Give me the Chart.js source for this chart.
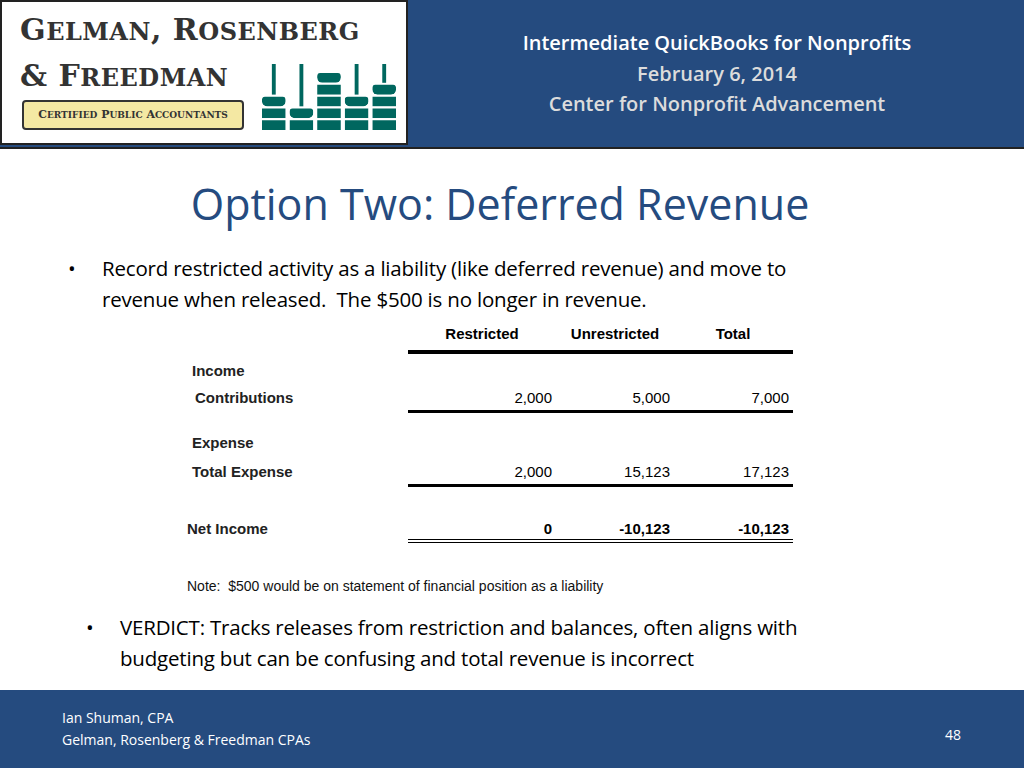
<!DOCTYPE html>
<html><head><meta charset="utf-8">
<script src="https://cdn.jsdelivr.net/npm/chart.js@4"></script>
<style>
body{margin:0;width:1024px;height:768px;position:relative;font-family:"Open Sans","Liberation Sans",sans-serif;background:#fff;overflow:hidden}
.hdr{position:absolute;left:0;top:0;width:1024px;height:147px;background:#254b7f;border-bottom:2px solid #222}
.logo{position:absolute;left:0;top:0;width:408px;height:145px;background:#fff;border:2px solid #222;box-sizing:border-box}
.logo .t{position:absolute;left:18px;font-family:"DejaVu Serif",serif;font-weight:bold;color:#333;font-size:30px;letter-spacing:0.5px}
.cert{position:absolute;left:20px;top:98px;width:222px;height:30px;background:#f4e8a3;border:2px solid #333;border-radius:4px;box-sizing:border-box;font-family:"DejaVu Serif",serif;font-size:11px;font-weight:bold;line-height:26px;text-align:center;color:#333}
.ht{position:absolute;left:410px;width:614px;text-align:center;font-weight:600;font-size:20px;font-family:"Open Sans",sans-serif}
h1{position:absolute;left:0;width:1000px;top:174px;margin:0;text-align:center;font-weight:normal;font-size:43px;color:#254b7f;font-family:"Open Sans",sans-serif}
.b{position:absolute;font-size:20.5px;color:#000;line-height:31px;letter-spacing:-0.2px}
.b:before{content:"•";position:absolute;left:-34px}
.foot{position:absolute;left:0;top:690px;width:1024px;height:78px;background:#254b7f;color:#fff;font-size:14px}
</style></head><body>
<div class="hdr">
 <div class="logo">
  <div class="t" style="top:10px">G<span style="font-size:24px">ELMAN</span>, R<span style="font-size:24px">OSENBERG</span></div>
  <div class="t" style="top:56px">&amp; F<span style="font-size:24px">REEDMAN</span></div>
  <div class="cert">C<span style="font-size:9px">ERTIFIED</span> P<span style="font-size:9px">UBLIC</span> A<span style="font-size:9px">CCOUNTANTS</span></div>
  <canvas id="abacus" style="position:absolute;left:258px;top:62px;width:138px;height:66px" width="138" height="66"></canvas>
 </div>
 <div class="ht" style="top:29px;color:#fff">Intermediate QuickBooks for Nonprofits</div>
 <div class="ht" style="top:60px;color:#dcdcdc">February 6, 2014</div>
 <div class="ht" style="top:90px;color:#dcdcdc">Center for Nonprofit Advancement</div>
</div>
<h1>Option Two: Deferred Revenue</h1>
<div class="b" style="left:102px;top:253px;width:755px">Record restricted activity as a liability (like deferred revenue) and move to revenue when released.&nbsp; The $500 is no longer in revenue.</div>
<div id="tbl"></div>
<div style="position:absolute;left:187px;top:578px;font-family:'Liberation Sans',Arial;font-size:14px;color:#111">Note:&nbsp; $500 would be on statement of financial position as a liability</div>
<div class="b" style="left:120px;top:612px;width:770px">VERDICT: Tracks releases from restriction and balances, often aligns with budgeting but can be confusing and total revenue is incorrect</div>
<div class="foot">
 <div style="position:absolute;left:62px;top:18px">Ian Shuman, CPA</div>
 <div style="position:absolute;left:62px;top:40px">Gelman, Rosenberg &amp; Freedman CPAs</div>
 <div style="position:absolute;left:945px;top:35px">48</div>
</div>
<script>
// table data
const columns = ['Restricted', 'Unrestricted', 'Total'];
const contributions = ['2,000', '5,000', '7,000'];
const totalExpense = ['2,000', '15,123', '17,123'];
const netIncome = ['0', '-10,123', '-10,123'];
// abacus beads per rod
const rods = ['a', 'b', 'c', 'd', 'e'];
const beads = [3, 2, 5, 3, 4];

const H = 'style="position:absolute;';
let html = '';
html += '<div ' + H + 'left:408px;top:350px;width:385px;border-top:4px solid #000"></div>';
html += '<div ' + H + 'left:408px;top:410px;width:385px;border-top:3px solid #000"></div>';
html += '<div ' + H + 'left:408px;top:484px;width:385px;border-top:3px solid #000"></div>';
html += '<div ' + H + 'left:408px;top:539px;width:385px;border-top:1px solid #000;border-bottom:1px solid #000;height:2px"></div>';
const colX = [408, 556, 674];
const colW = [148, 118, 119];
const F = 'font-family:Liberation Sans Narrow,Liberation Sans,Arial;font-size:15px;';
function row(top, vals, bold) {
  vals.forEach((v, i) => {
    html += '<div ' + H + F + 'top:' + top + 'px;left:' + colX[i] + 'px;width:' + (colW[i] - 4) + 'px;text-align:right;' + (bold ? 'font-weight:bold' : '') + '">' + v + '</div>';
  });
}
columns.forEach((c, i) => {
  const cx = [482, 615, 733][i];
  html += '<div ' + H + F + 'font-weight:bold;top:325px;left:' + (cx - 60) + 'px;width:120px;text-align:center">' + c + '</div>';
});
function label(top, left, t) {
  html += '<div ' + H + F + 'font-weight:bold;color:#222;top:' + top + 'px;left:' + left + 'px">' + t + '</div>';
}
label(362, 192, 'Income'); label(389, 195, 'Contributions');
label(434, 192, 'Expense'); label(463, 192, 'Total Expense');
label(520, 187, 'Net Income');
row(389, contributions); row(463, totalExpense); row(520, netIncome, true);
document.getElementById('tbl').innerHTML = html;

// abacus as stacked bars
const teal = '#00675f';
const datasets = [];
for (let k = 0; k < 5; k++) {
  datasets.push({
    data: beads.map(n => (k < n ? 1 : 0)),
    backgroundColor: teal, borderColor: '#fff', borderWidth: {top: 2, bottom: 0, left: 0, right: 0},
    borderRadius: 5, borderSkipped: false, stack: 's', barPercentage: 1, categoryPercentage: 0.86, grouped: false
  });
}
datasets.push({
  data: beads.map(n => (n < 5 ? [n, 5.6] : null)), backgroundColor: teal, borderWidth: 0,
  stack: 'r', barPercentage: 0.14, categoryPercentage: 1, grouped: false
});
new Chart(document.getElementById('abacus'), {
  type: 'bar',
  data: {labels: rods, datasets: datasets},
  options: {
    responsive: false, animation: false,
    plugins: {legend: {display: false}, tooltip: {enabled: false}},
    layout: {padding: 0},
    scales: {x: {display: false, stacked: true}, y: {display: false, stacked: true, min: 0, max: 5.6}}
  }
});
</script>
</body></html>
